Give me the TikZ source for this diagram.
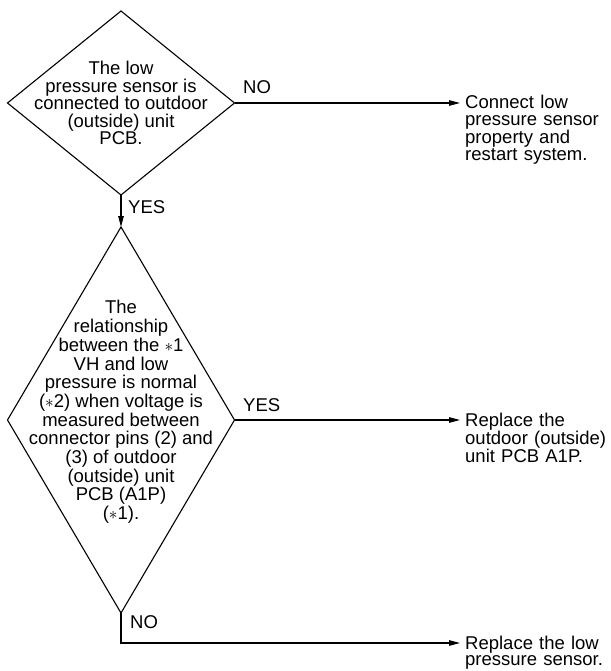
\documentclass[tikz,border=0pt]{standalone}
\usepackage{fontspec}
\setmainfont{Liberation Sans}
\usetikzlibrary{shapes.geometric,arrows.meta}
\begin{document}
\begin{tikzpicture}[x=1pt,y=-1pt,
  dia/.style={draw,shape=diamond,inner sep=0pt,outer sep=0pt,line width=1.1pt},
  dtext/.style={align=center,inner sep=0pt,font=\fontsize{18.5}{18.7}\selectfont},
  rtext/.style={align=left,text width=150pt,inner sep=0pt,anchor=base west,font=\fontsize{18.5}{16.5}\selectfont},
  lbl/.style={inner sep=0pt,anchor=base west,font=\fontsize{18.5}{18.5}\selectfont},
  arr/.style={line width=1.1pt,-{Triangle[length=11pt,width=5.5pt]}}]
\useasboundingbox (0,0) rectangle (610,671);

\node[dia,minimum width=227pt,minimum height=184pt] (d1) at (121,103) {};
\node[dtext,font=\fontsize{18.5}{17.5}\selectfont] (t1) at (121,103) {The low\\pressure sensor is\\connected to outdoor\\(outside) unit\\PCB.};
\node[dia,minimum width=227pt,minimum height=386pt] (d2) at (121,420) {};
\node[dtext] (t2) at (121,412) {The\\relationship\\between the $\ast$1\\VH and low\\pressure is normal\\($\ast$2) when voltage is\\measured between\\connector pins (2) and\\(3) of outdoor\\(outside) unit\\PCB (A1P)\\($\ast$1).};

\node[rtext] (r1) at (465,109) {Connect low\\pressure sensor\\property and\\restart system.};
\node[rtext] (r2) at (465,426) {Replace the\\outdoor (outside)\\unit PCB A1P.};
\node[rtext] (r3) at (465,649) {Replace the low\\pressure sensor.};

\draw[arr,shorten >=5pt] (d1.east) -- (d1.east -| r1.west);
\draw[arr] (d1.south) -- (d2.north);
\draw[arr,shorten >=5pt] (d2.east) -- (d2.east -| r2.west);
\coordinate (c3) at (121,643);
\draw[arr,shorten >=5pt] (d2.south) -- (c3) -- (c3 -| r3.west);

\node[lbl] (n1) at (243,94) {NO};
\node[lbl] (y1) at (128,213) {YES};
\node[lbl] (y2) at (243,411) {YES};
\node[lbl] (n2) at (130,628) {NO};
\end{tikzpicture}
\end{document}
